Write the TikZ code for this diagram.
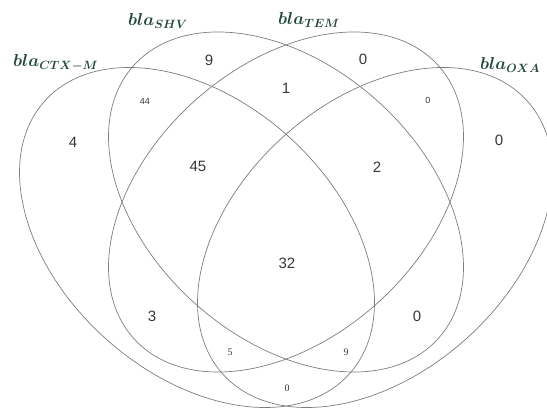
\documentclass[tikz,border=0pt]{standalone}
\usepackage{fontspec}
\setmainfont{Liberation Serif}
\setsansfont{Liberation Sans}
\usepackage{bm}
\definecolor{genegreen}{RGB}{33,72,58}
\definecolor{rimgray}{RGB}{125,125,125}
\definecolor{countgray}{RGB}{55,55,55}

\begin{document}
\begin{tikzpicture}[x=1pt, y=1pt,
    set/.style={draw=rimgray, line width=0.7pt},
    gene/.style={anchor=base west, inner sep=0pt, text=genegreen, font=\fontsize{18}{20}\selectfont},
    big/.style={text=countgray, font=\sffamily\fontsize{15}{17}\selectfont},
    small/.style={text=countgray, font=\sffamily\fontsize{9}{10}\selectfont},
    tiny/.style={text=countgray, font=\rmfamily\fontsize{10}{11}\selectfont}]
        \useasboundingbox (0,0) rectangle (547,410);
        \clip (0,0) rectangle (547,410);

        % Sets
        \draw[set, shift={(197,172.5)}, rotate=-41.8] (0,0) ellipse [x radius=204.5, y radius=136.3];
        \draw[set, shift={(286,208)}, rotate=-41.8] (0,0) ellipse [x radius=204.5, y radius=136.3];
        \draw[set, shift={(286,208)}, rotate=41.8] (0,0) ellipse [x radius=204.5, y radius=136.3];
        \draw[set, shift={(375,172.5)}, rotate=41.8] (0,0) ellipse [x radius=204.5, y radius=136.3];

        % Labels
        \node[gene] (lctx) at (13,343) {$\bm{bla_{CTX-M}}$};
        \node[gene] (lshv) at (128,384) {$\bm{bla_{SHV}}$};
        \node[gene] (ltem) at (278,385) {$\bm{bla_{TEM}}$};
        \node[gene] (loxa) at (480,340) {$\bm{bla_{OXA}}$};

        % Counts
        \node[big] (ctx) at (73,268) {4};
        \node[big] (shv) at (209,350) {9};
        \node[big] (tem) at (363,351) {0};
        \node[big] (oxa) at (499,270) {0};
        \node[small] (ctxshv) at (145,309) {44};
        \node[big] (shvtem) at (286,322) {1};
        \node[small] (temoxa) at (428,310) {0};
        \node[big] (ctxshvtem) at (198,244) {45};
        \node[big] (shvtemoxa) at (377,243) {2};
        \node[big] (all) at (287,147) {32};
        \node[big] (ctxtem) at (152,94) {3};
        \node[big] (shvoxa) at (417,94) {0};
        \node[tiny] (ctxtemoxa) at (230,58) {5};
        \node[tiny] (ctxshvoxa) at (346,58) {9};
        \node[tiny] (ctxoxa) at (287,22) {0};
\end{tikzpicture}
\end{document}
